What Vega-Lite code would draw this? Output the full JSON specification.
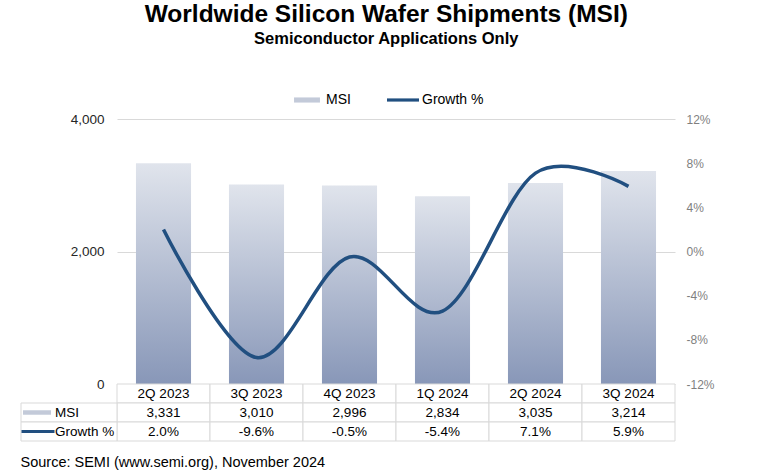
{
  "$schema": "https://vega.github.io/schema/vega-lite/v6.json",
  "background": "white",
  "padding": {"left": 20, "top": 2, "right": 5, "bottom": 5},
  "bounds": "flush",
  "spacing": 0,
  "title": {
    "text": "Worldwide Silicon Wafer Shipments (MSI)",
    "subtitle": "Semiconductor Applications Only",
    "font": "Liberation Sans",
    "fontSize": 24.5,
    "fontWeight": "bold",
    "color": "#000000",
    "subtitleFont": "Liberation Sans",
    "subtitleFontSize": 16.5,
    "subtitleFontWeight": "bold",
    "subtitleColor": "#000000",
    "subtitlePadding": 3,
    "anchor": "middle",
    "offset": 36,
    "dx": 19
  },
  "config": {
    "view": {"stroke": null},
    "font": "Liberation Sans",
    "locale": {"number": {"decimal": ".", "thousands": ",", "grouping": [3], "currency": ["$", ""], "minus": "-"}}
  },
  "datasets": {
    "q": [
      {"quarter": "2Q 2023", "msi": 3331, "growth": 0.020},
      {"quarter": "3Q 2023", "msi": 3010, "growth": -0.096},
      {"quarter": "4Q 2023", "msi": 2996, "growth": -0.005},
      {"quarter": "1Q 2024", "msi": 2834, "growth": -0.054},
      {"quarter": "2Q 2024", "msi": 3035, "growth": 0.071},
      {"quarter": "3Q 2024", "msi": 3214, "growth": 0.059}
    ],
    "rows": [
      {"row": "MSI"},
      {"row": "Growth %"}
    ]
  },
  "vconcat": [
    {
      "width": 654,
      "height": 265,
      "data": {"name": "q"},
      "layer": [
        {
          "mark": {
            "type": "bar",
            "fill": {
              "gradient": "linear", "x1": 0, "y1": 0, "x2": 0, "y2": 1,
              "stops": [
                {"offset": 0, "color": "#e0e4ec"},
                {"offset": 1, "color": "#8897b8"}
              ]
            }
          },
          "encoding": {
            "x": {
              "field": "quarter", "type": "nominal", "sort": null,
              "scale": {"domain": ["2Q 2023", "3Q 2023", "4Q 2023", "1Q 2024", "2Q 2024", "3Q 2024"], "range": [96, 654], "paddingInner": 0.408, "paddingOuter": 0.204},
              "axis": null
            },
            "y": {
              "field": "msi", "type": "quantitative",
              "scale": {"domain": [0, 4000]},
              "axis": {
                "orient": "left", "offset": -96, "values": [0, 2000, 4000], "format": ",.0f",
                "grid": true, "gridColor": "#d9d9d9", "gridWidth": 1,
                "domain": false, "ticks": false, "labelPadding": 13,
                "labelFontSize": 13.5, "labelColor": "#262626", "labelFont": "Liberation Sans",
                "title": null
              }
            }
          }
        },
        {
          "mark": {"type": "line", "interpolate": "cardinal", "tension": 0, "strokeWidth": 3.5},
          "encoding": {
            "x": {
              "field": "quarter", "type": "nominal", "sort": null,
              "scale": {"domain": ["2Q 2023", "3Q 2023", "4Q 2023", "1Q 2024", "2Q 2024", "3Q 2024"], "range": [96, 654], "paddingInner": 0.408, "paddingOuter": 0.204},
              "axis": null
            },
            "y": {
              "field": "growth", "type": "quantitative",
              "scale": {"domain": [-0.12, 0.12]},
              "axis": {
                "orient": "right", "values": [-0.12, -0.08, -0.04, 0, 0.04, 0.08, 0.12], "format": ".0%",
                "grid": false, "domain": false, "ticks": false, "labelPadding": 11,
                "labelFontSize": 12, "labelColor": "#7f7f7f", "labelFont": "Liberation Sans",
                "title": null
              }
            },
            "color": {
              "datum": "Growth %",
              "scale": {"domain": ["MSI", "Growth %"], "range": ["#c3cad9", "#214f80"]},
              "legend": {
                "orient": "none", "legendX": 270, "legendY": -35, "direction": "horizontal",
                "title": null, "labelFontSize": 14, "labelColor": "#000000", "labelFont": "Liberation Sans",
                "symbolSize": 1024, "columnPadding": 36, "labelOffset": 3, "symbolStrokeWidth": 0,
                "symbolType": "M-1,-0.1H1V0.1H-1Z",
                "encode": {
                  "symbols": {
                    "update": {
                      "fill": {"signal": "datum.value === 'MSI' ? '#c3cad9' : '#214f80'"},
                      "shape": {"signal": "datum.value === 'MSI' ? 'M-0.81,-0.16H0.81V0.16H-0.81Z' : 'M-1,-0.1H1V0.1H-1Z'"},
                      "strokeWidth": {"value": 0},
                      "opacity": {"value": 1}
                    }
                  }
                }
              }
            }
          }
        }
      ],
      "resolve": {"scale": {"y": "independent"}}
    },
    {
      "width": 654,
      "height": 57,
      "title": {
        "text": "Source: SEMI (www.semi.org), November 2024",
        "orient": "bottom", "anchor": "start", "fontSize": 14.5, "fontWeight": "normal",
        "font": "Liberation Sans", "color": "#000000", "offset": 14
      },
      "layer": [
        {
          "data": {"name": "q"},
          "mark": {"type": "rect", "fill": "white", "stroke": "#d9d9d9", "strokeWidth": 1},
          "encoding": {
            "x": {"field": "quarter", "type": "nominal", "sort": null, "scale": {"domain": ["2Q 2023", "3Q 2023", "4Q 2023", "1Q 2024", "2Q 2024", "3Q 2024"], "range": [96, 654], "paddingInner": 0, "paddingOuter": 0}, "axis": null},
            "y": {"datum": "hdr", "type": "nominal", "scale": {"domain": ["hdr", "MSI", "Growth %"], "paddingInner": 0, "paddingOuter": 0}, "axis": null}
          }
        },
        {
          "data": {"name": "q"},
          "mark": {"type": "rect", "fill": "white", "stroke": "#d9d9d9", "strokeWidth": 1},
          "encoding": {
            "x": {"field": "quarter", "type": "nominal", "sort": null, "scale": {"domain": ["2Q 2023", "3Q 2023", "4Q 2023", "1Q 2024", "2Q 2024", "3Q 2024"], "range": [96, 654], "paddingInner": 0, "paddingOuter": 0}, "axis": null},
            "y": {"datum": "MSI", "type": "nominal", "axis": null}
          }
        },
        {
          "data": {"name": "q"},
          "mark": {"type": "rect", "fill": "white", "stroke": "#d9d9d9", "strokeWidth": 1},
          "encoding": {
            "x": {"field": "quarter", "type": "nominal", "sort": null, "scale": {"domain": ["2Q 2023", "3Q 2023", "4Q 2023", "1Q 2024", "2Q 2024", "3Q 2024"], "range": [96, 654], "paddingInner": 0, "paddingOuter": 0}, "axis": null},
            "y": {"datum": "Growth %", "type": "nominal", "axis": null}
          }
        },
        {
          "data": {"name": "rows"},
          "mark": {"type": "rect", "fill": "white", "stroke": "#d9d9d9", "strokeWidth": 1},
          "encoding": {
            "x": {"datum": "label", "type": "nominal", "scale": {"domain": ["label"], "range": [0, 96], "paddingInner": 0, "paddingOuter": 0}, "axis": null},
            "y": {"field": "row", "type": "nominal", "axis": null}
          }
        },
        {
          "data": {"name": "q"},
          "mark": {"type": "text", "fontSize": 13.5, "color": "#000000", "font": "Liberation Sans"},
          "encoding": {
            "x": {"field": "quarter", "type": "nominal", "sort": null, "scale": {"domain": ["2Q 2023", "3Q 2023", "4Q 2023", "1Q 2024", "2Q 2024", "3Q 2024"], "range": [96, 654], "paddingInner": 0, "paddingOuter": 0}, "axis": null},
            "y": {"datum": "hdr", "type": "nominal", "axis": null},
            "text": {"field": "quarter"}
          }
        },
        {
          "data": {"name": "q"},
          "mark": {"type": "text", "fontSize": 13.5, "color": "#000000", "font": "Liberation Sans"},
          "encoding": {
            "x": {"field": "quarter", "type": "nominal", "sort": null, "scale": {"domain": ["2Q 2023", "3Q 2023", "4Q 2023", "1Q 2024", "2Q 2024", "3Q 2024"], "range": [96, 654], "paddingInner": 0, "paddingOuter": 0}, "axis": null},
            "y": {"datum": "MSI", "type": "nominal", "axis": null},
            "text": {"field": "msi", "type": "quantitative", "format": ","}
          }
        },
        {
          "data": {"name": "q"},
          "mark": {"type": "text", "fontSize": 13.5, "color": "#000000", "font": "Liberation Sans"},
          "encoding": {
            "x": {"field": "quarter", "type": "nominal", "sort": null, "scale": {"domain": ["2Q 2023", "3Q 2023", "4Q 2023", "1Q 2024", "2Q 2024", "3Q 2024"], "range": [96, 654], "paddingInner": 0, "paddingOuter": 0}, "axis": null},
            "y": {"datum": "Growth %", "type": "nominal", "axis": null},
            "text": {"field": "growth", "type": "quantitative", "format": ".1%"}
          }
        },
        {
          "data": {"name": "rows"},
          "mark": {"type": "text", "fontSize": 13.5, "color": "#000000", "font": "Liberation Sans", "align": "left", "dx": -14},
          "encoding": {
            "x": {"datum": "label", "type": "nominal", "scale": {"domain": ["label"], "range": [0, 96], "paddingInner": 0, "paddingOuter": 0}, "axis": null},
            "y": {"field": "row", "type": "nominal", "axis": null},
            "text": {"field": "row"}
          }
        },
        {
          "data": {"values": [{"row": "MSI"}]},
          "mark": {"type": "point", "shape": "M-1,-0.16H1V0.16H-1Z", "size": 784, "filled": true, "fill": "#c3cad9", "strokeWidth": 0, "opacity": 1, "xOffset": -32},
          "encoding": {
            "x": {"datum": "label", "type": "nominal", "scale": {"domain": ["label"], "range": [0, 96], "paddingInner": 0, "paddingOuter": 0}, "axis": null},
            "y": {"field": "row", "type": "nominal", "axis": null}
          }
        },
        {
          "data": {"values": [{"row": "Growth %"}]},
          "mark": {"type": "point", "shape": "M-1,-0.09H1V0.09H-1Z", "size": 1089, "filled": true, "fill": "#214f80", "strokeWidth": 0, "opacity": 1, "xOffset": -31},
          "encoding": {
            "x": {"datum": "label", "type": "nominal", "scale": {"domain": ["label"], "range": [0, 96], "paddingInner": 0, "paddingOuter": 0}, "axis": null},
            "y": {"field": "row", "type": "nominal", "axis": null}
          }
        }
      ],
      "resolve": {"scale": {"x": "independent"}}
    }
  ]
}
